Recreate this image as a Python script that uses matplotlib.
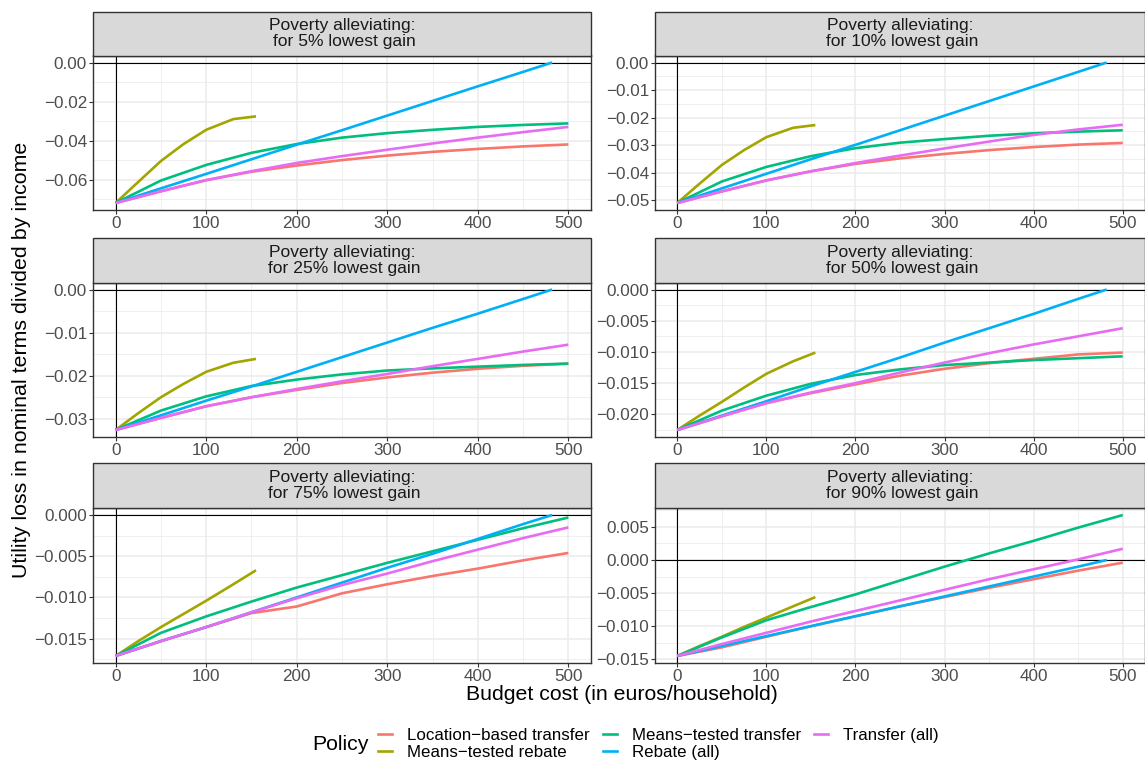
import matplotlib.pyplot as plt
from matplotlib.patches import Rectangle
from matplotlib.lines import Line2D
from matplotlib.ticker import AutoMinorLocator

plt.rcParams['font.family'] = ['Liberation Sans', 'DejaVu Sans']

policies = ['Location\u2212based transfer', 'Means\u2212tested rebate',
            'Means\u2212tested transfer', 'Rebate (all)', 'Transfer (all)']
colors = ['#F8766D', '#A3A500', '#00BF7D', '#00B0F6', '#E76BF3']

shares = ['5%', '10%', '25%', '50%', '75%', '90%']

budget = [0, 50, 100, 150, 200, 250, 300, 350, 400, 450, 500]
budget_rebate = [0, 50, 100, 150, 200, 250, 300, 350, 400, 450, 482]
budget_mt_rebate = [0, 25, 50, 75, 100, 130, 155]

# one row per panel (5%, 10%, 25%, 50%, 75%, 90%)
loc_transfer = [
    [-0.072, -0.0660, -0.0603, -0.0560, -0.0528, -0.0500, -0.0477, -0.0458, -0.0443, -0.0430, -0.0420],
    [-0.051, -0.0468, -0.0428, -0.0395, -0.0368, -0.0348, -0.0332, -0.0318, -0.0307, -0.0298, -0.0292],
    [-0.0326, -0.0298, -0.0271, -0.0250, -0.0233, -0.0217, -0.0204, -0.0193, -0.0184, -0.0177, -0.0172],
    [-0.0225, -0.0203, -0.0182, -0.0166, -0.0152, -0.0138, -0.0127, -0.0118, -0.0111, -0.0104, -0.0101],
    [-0.0171, -0.0153, -0.0136, -0.0119, -0.0111, -0.0095, -0.0084, -0.0074, -0.0065, -0.0055, -0.0046],
    [-0.0145, -0.0132, -0.0116, -0.0100, -0.0085, -0.0070, -0.0056, -0.0042, -0.0029, -0.0016, -0.0004],
]
mt_rebate = [
    [-0.072, -0.0612, -0.0505, -0.0418, -0.0345, -0.0290, -0.0276],
    [-0.051, -0.0440, -0.0372, -0.0318, -0.0271, -0.0237, -0.0227],
    [-0.0326, -0.0287, -0.0250, -0.0219, -0.0191, -0.0170, -0.0161],
    [-0.0225, -0.0202, -0.0180, -0.0157, -0.0135, -0.0115, -0.0101],
    [-0.0171, -0.0153, -0.0136, -0.0120, -0.0104, -0.0084, -0.0067],
    [-0.0145, -0.0130, -0.0116, -0.0101, -0.0087, -0.0070, -0.0056],
]
mt_transfer = [
    [-0.072, -0.0605, -0.0525, -0.0463, -0.0418, -0.0385, -0.0362, -0.0345, -0.0330, -0.0320, -0.0312],
    [-0.051, -0.0432, -0.0379, -0.0340, -0.0311, -0.0291, -0.0278, -0.0266, -0.0257, -0.0251, -0.0246],
    [-0.0326, -0.0281, -0.0248, -0.0224, -0.0209, -0.0197, -0.0188, -0.0183, -0.0179, -0.0175, -0.0172],
    [-0.0225, -0.0194, -0.0170, -0.0151, -0.0137, -0.0128, -0.0121, -0.0117, -0.0113, -0.0110, -0.0107],
    [-0.0171, -0.0143, -0.0123, -0.0105, -0.0088, -0.0073, -0.0058, -0.0044, -0.0030, -0.0016, -0.0003],
    [-0.0145, -0.0117, -0.0091, -0.0071, -0.0052, -0.0031, -0.0010, 0.0010, 0.0029, 0.0049, 0.0068],
]
rebate_all = [
    [-0.072, -0.0645, -0.0571, -0.0496, -0.0421, -0.0347, -0.0272, -0.0197, -0.0122, -0.0048, 0.0],
    [-0.051, -0.0457, -0.0404, -0.0351, -0.0299, -0.0246, -0.0193, -0.0140, -0.0087, -0.0034, 0.0],
    [-0.0326, -0.0292, -0.0258, -0.0225, -0.0191, -0.0157, -0.0123, -0.0089, -0.0056, -0.0022, 0.0],
    [-0.0225, -0.0202, -0.0179, -0.0155, -0.0132, -0.0109, -0.0085, -0.0062, -0.0039, -0.0015, 0.0],
    [-0.0171, -0.0153, -0.0136, -0.0118, -0.0100, -0.0082, -0.0064, -0.0047, -0.0029, -0.0011, 0.0],
    [-0.0145, -0.0130, -0.0115, -0.0100, -0.0085, -0.0070, -0.0055, -0.0040, -0.0025, -0.0010, 0.0],
]
transfer_all = [
    [-0.072, -0.0660, -0.0603, -0.0557, -0.0515, -0.0480, -0.0447, -0.0415, -0.0385, -0.0357, -0.0330],
    [-0.051, -0.0468, -0.0428, -0.0395, -0.0365, -0.0338, -0.0312, -0.0287, -0.0263, -0.0243, -0.0226],
    [-0.0326, -0.0298, -0.0271, -0.0250, -0.0231, -0.0213, -0.0196, -0.0178, -0.0161, -0.0144, -0.0128],
    [-0.0225, -0.0203, -0.0182, -0.0165, -0.0150, -0.0133, -0.0117, -0.0102, -0.0088, -0.0075, -0.0062],
    [-0.0171, -0.0153, -0.0136, -0.0118, -0.0101, -0.0085, -0.0071, -0.0056, -0.0042, -0.0028, -0.0015],
    [-0.0145, -0.0127, -0.0110, -0.0093, -0.0077, -0.0061, -0.0045, -0.0029, -0.0014, 0.0001, 0.0017],
]

y_ticks = [
    [0, -0.02, -0.04, -0.06],
    [0, -0.01, -0.02, -0.03, -0.04, -0.05],
    [0, -0.01, -0.02, -0.03],
    [0, -0.005, -0.010, -0.015, -0.020],
    [0, -0.005, -0.010, -0.015],
    [0.005, 0, -0.005, -0.010, -0.015],
]
y_decimals = [2, 2, 2, 3, 3, 3]
x_ticks = [0, 100, 200, 300, 400, 500]

W, H = 1145, 761
fig = plt.figure(figsize=(W / 100, H / 100), dpi=100)

col_x = [(93, 591), (655, 1145)]
row_y = [(12, 55.5, 210), (238, 282.5, 437), (463, 508, 663)]

for i in range(6):
    r, c = divmod(i, 2)
    x0, x1 = col_x[c]
    s_top, p_top, p_bot = row_y[r]
    ax = fig.add_axes([x0 / W, 1 - p_bot / H, (x1 - x0) / W, (p_bot - p_top) / H])

    series = [(budget, loc_transfer[i]), (budget_mt_rebate, mt_rebate[i]),
              (budget, mt_transfer[i]), (budget_rebate, rebate_all[i]),
              (budget, transfer_all[i])]
    for (xs, ys), col in zip(series, colors):
        ax.plot(xs, ys, color=col, lw=1.9, solid_capstyle='butt', zorder=3)
    ax.axhline(0, color='black', lw=0.8, zorder=2)
    ax.axvline(0, color='black', lw=0.8, zorder=2)

    allv = [v for _, ys in series for v in ys] + [0]
    lo, hi = min(allv), max(allv)
    pad = (hi - lo) * 0.05
    ax.set_ylim(lo - pad, hi + pad)
    ax.set_xlim(-25, 525)

    ax.set_xticks(x_ticks)
    ax.set_xticklabels([str(v) for v in x_ticks])
    ax.set_yticks(y_ticks[i])
    ax.set_yticklabels([f'{v:.{y_decimals[i]}f}'.replace('-', '\u2212') if v != 0
                        else f'{0:.{y_decimals[i]}f}' for v in y_ticks[i]])
    ax.xaxis.set_minor_locator(AutoMinorLocator(2))
    ax.yaxis.set_minor_locator(AutoMinorLocator(2))
    ax.grid(which='major', color='#EBEBEB', lw=1.1, zorder=0)
    ax.grid(which='minor', color='#EBEBEB', lw=0.55, zorder=0)
    ax.set_axisbelow(True)
    ax.tick_params(which='major', length=2.75, width=0.8, color='#333333',
                   labelcolor='#4D4D4D', labelsize=12.3, pad=1.5)
    ax.tick_params(which='minor', length=0)
    for sp in ax.spines.values():
        sp.set_color('#333333')
        sp.set_linewidth(1.0)

    # facet strip
    sh = (p_top - s_top) / (p_bot - p_top)
    ax.add_patch(Rectangle((0, 1), 1, sh, transform=ax.transAxes, facecolor='#D9D9D9',
                           edgecolor='#333333', lw=1.0, clip_on=False, zorder=5))
    ax.text(0.5, 1 + sh / 2, f'Poverty alleviating:\n for {shares[i]} lowest gain',
            transform=ax.transAxes, ha='center', va='center', fontsize=12.6,
            color='#1A1A1A', linespacing=1.05, zorder=6)

fig.text(622 / W, 1 - 695 / H, 'Budget cost (in euros/household)', ha='center',
         va='center', fontsize=15.3)
fig.text(22 / W, 1 - 360 / H, 'Utility loss in nominal terms divided by income',
         rotation=90, ha='center', va='center', fontsize=15.4)

fig.text(340 / W, 1 - 745 / H, 'Policy', ha='center', va='center', fontsize=15.3)
handles = [Line2D([], [], color=col, lw=1.9) for col in colors]
fig.legend(handles, policies, ncol=3, loc='center left',
           bbox_to_anchor=(378 / W, 1 - 744 / H), frameon=False, fontsize=12.2,
           handlelength=0.8, handletextpad=0.9, columnspacing=0.8,
           labelspacing=0.15, borderaxespad=0, borderpad=0)

fig.savefig('out.png', dpi=100)
